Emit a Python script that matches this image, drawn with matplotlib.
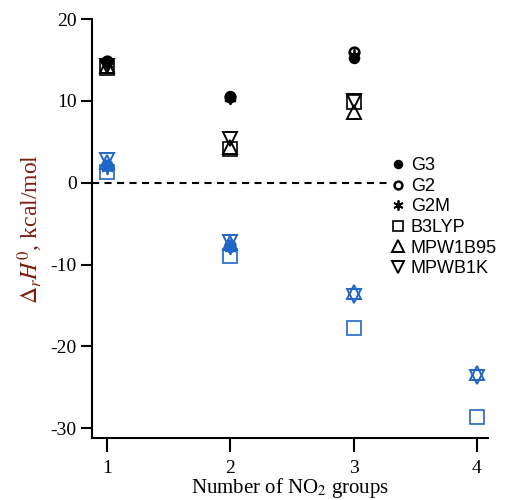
import matplotlib
matplotlib.use("Agg")
import matplotlib.pyplot as plt
from matplotlib.lines import Line2D

# Data
methods = ["G3", "G2", "G2M", "B3LYP", "MPW1B95", "MPWB1K"]

# upper (black) set: x = 1, 2, 3
x_black = [1, 2, 3]
black_vals = {
    "G3":      [14.8, 10.6, 15.2],
    "G2":      [14.9, 10.5, 16.0],
    "G2M":     [14.5, 10.3, 15.6],
    "B3LYP":   [14.0, 4.1, 9.8],
    "MPW1B95": [14.2, 4.4, 8.6],
    "MPWB1K":  [14.3, 5.3, 10.0],
}
# lower (blue) set
x_blue_g = [1, 2]
x_blue_d = [1, 2, 3, 4]
blue_vals = {
    "G3":      [2.0, -7.8],
    "G2":      [2.2, -7.6],
    "G2M":     [1.8, -8.0],
    "B3LYP":   [1.3, -9.0, -17.8, -28.6],
    "MPW1B95": [2.5, -7.4, -13.4, -23.3],
    "MPWB1K":  [2.8, -7.2, -13.8, -23.7],
}

BLUE = "#2066c4"

plt.rcParams["mathtext.fontset"] = "stix"
plt.rcParams["axes.unicode_minus"] = False
plt.rcParams["font.family"] = ["Liberation Serif"]
fig = plt.figure(figsize=(5.09, 5.0), dpi=100)
ax = fig.add_axes([0.1807, 0.124, 0.778, 0.838])

def style(m, color, scale=1.0):
    if m == "o_f":
        d = dict(marker="o", ms=7, mfc=color, mec=color, mew=1.2)
    elif m == "o":
        d = dict(marker="o", ms=7, mfc="none", mec=color, mew=1.8)
    elif m == "x":
        d = dict(marker=(6, 2, 0), ms=9, mfc="none", mec=color, mew=1.3)
    elif m == "s":
        d = dict(marker="s", ms=9.5, mfc="none", mec=color, mew=1.2)
    else:
        d = dict(marker=m, ms=10, mfc="none", mec=color, mew=1.4)
    d["ms"] *= scale
    return d

keys = ["o_f", "o", "x", "s", "^", "v"]
for meth, k in zip(methods, keys):
    ax.plot(x_black, black_vals[meth], ls="none", **style(k, "black"))
    xb = x_blue_g if len(blue_vals[meth]) == 2 else x_blue_d
    ax.plot(xb, blue_vals[meth], ls="none", **style(k, BLUE))

ax.plot([0.88, 3.28], [0, 0], ls=(0, (3.4, 2.6)), color="black", lw=1.5)

ax.set_xlim(0.88, 4.09)
ax.set_ylim(-31.2, 20)
ax.set_xticks([1, 2, 3, 4])
ax.set_yticks([-30, -20, -10, 0, 10, 20])
for s in ["top", "right"]:
    ax.spines[s].set_visible(False)
for s in ["left", "bottom"]:
    ax.spines[s].set_linewidth(1.5)
ax.tick_params(axis="y", direction="out", length=8, width=1.5, labelsize=14, pad=3)
ax.tick_params(axis="x", direction="out", length=10, width=1.5, labelsize=14, pad=6)

ax.set_xlabel("Number of NO$_2$ groups", fontsize=15, labelpad=-1)
ax.set_ylabel(r"$\Delta_{r}H^{0}$, kcal/mol", fontsize=17,
              color="#7a1f12", labelpad=4)

handles = [Line2D([], [], ls="none", **style(k, "black", 0.8)) for k in keys]
leg = ax.legend(handles, methods, loc="upper left", bbox_to_anchor=(0.755, 0.67),
                frameon=False, handletextpad=0.31, labelspacing=0.2,
                borderaxespad=0, borderpad=0,
                prop={"family": "Liberation Sans", "size": 13}, handlelength=0.8)

fig.savefig("out.png", dpi=100)
